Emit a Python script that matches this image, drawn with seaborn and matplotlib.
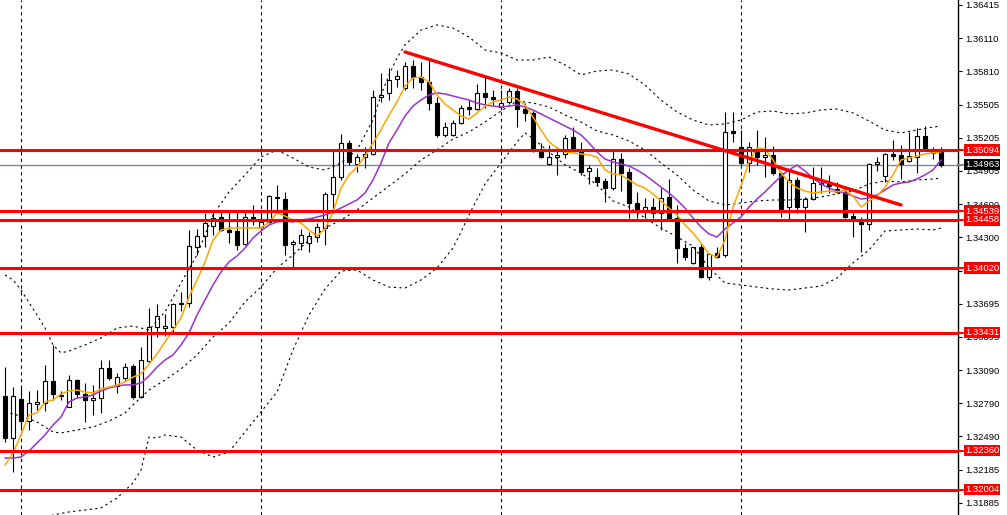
import matplotlib
matplotlib.use("Agg")
import matplotlib.pyplot as plt
import matplotlib.transforms as mtransforms
import numpy as np
import pandas as pd
import seaborn as sns

# ---- candles (oldest first) ----
opens = [1.32856, 1.32474, 1.32829, 1.32629, 1.32784, 1.32793, 1.32993, 1.32866, 1.32756, 1.33002,
         1.32875, 1.32820, 1.32838, 1.33111, 1.32947, 1.33020, 1.33129, 1.32847, 1.33175, 1.33484,
         1.33475, 1.33484, 1.33694, 1.33703, 1.34212, 1.34312, 1.34403, 1.34485, 1.34367, 1.34358,
         1.34240, 1.34485, 1.34394, 1.34440, 1.34667, 1.34649, 1.34240, 1.34249, 1.34249, 1.34303,
         1.34385, 1.34695, 1.34849, 1.35159, 1.34968, 1.35031, 1.35059, 1.35577, 1.35614, 1.35741,
         1.35659, 1.35859, 1.35759, 1.35714, 1.35523, 1.35232, 1.35232, 1.35341, 1.35486, 1.35468,
         1.35614, 1.35577, 1.35486, 1.35532, 1.35632, 1.35468, 1.35432, 1.35095, 1.34968, 1.35031,
         1.35059, 1.35213, 1.35086, 1.34904, 1.34849, 1.34813, 1.34749, 1.35013, 1.34895, 1.34613,
         1.34549, 1.34576, 1.34522, 1.34667, 1.34476, 1.34203, 1.34067, 1.34212, 1.33939, 1.34158,
         1.34140, 1.35268, 1.35122, 1.34977, 1.35104, 1.35031, 1.35050, 1.34886, 1.34576, 1.34822,
         1.34576, 1.34649, 1.34795, 1.34795, 1.34740, 1.34713, 1.34494, 1.34458, 1.34422, 1.34968,
         1.34858, 1.35059, 1.35050, 1.34995, 1.35031, 1.35222, 1.35068, 1.35095]
highs = [1.33120, 1.32938, 1.32938, 1.32902, 1.32911, 1.33139, 1.33321, 1.32902, 1.33048, 1.33011,
         1.32975, 1.32957, 1.33184, 1.33184, 1.33066, 1.33157, 1.33148, 1.33302, 1.33657, 1.33694,
         1.33603, 1.33703, 1.33803, 1.34367, 1.34376, 1.34522, 1.34540, 1.34540, 1.34540, 1.34540,
         1.34540, 1.34595, 1.34549, 1.34686, 1.34777, 1.34713, 1.34276, 1.34376, 1.34349, 1.34431,
         1.34713, 1.35095, 1.35241, 1.35186, 1.35059, 1.35122, 1.35641, 1.35796, 1.35841, 1.35823,
         1.35896, 1.35914, 1.35896, 1.35932, 1.35577, 1.35350, 1.35368, 1.35505, 1.35550, 1.35696,
         1.35759, 1.35641, 1.35641, 1.35659, 1.35659, 1.35523, 1.35450, 1.35159, 1.35141, 1.35122,
         1.35232, 1.35304, 1.35168, 1.34959, 1.34931, 1.34840, 1.35095, 1.35068, 1.34931, 1.34713,
         1.34658, 1.34658, 1.34749, 1.34831, 1.34595, 1.34249, 1.34212, 1.34249, 1.34158, 1.34212,
         1.35441, 1.35441, 1.35277, 1.35168, 1.35277, 1.35213, 1.35131, 1.34895, 1.34913, 1.34849,
         1.34667, 1.34940, 1.34940, 1.34868, 1.34804, 1.34758, 1.34549, 1.34485, 1.34977, 1.35031,
         1.35068, 1.35186, 1.35141, 1.35259, 1.35295, 1.35313, 1.35122, 1.35122]
lows = [1.32438, 1.32165, 1.32547, 1.32547, 1.32729, 1.32720, 1.32820, 1.32820, 1.32756, 1.32838,
        1.32620, 1.32684, 1.32702, 1.33002, 1.32884, 1.33002, 1.32829, 1.32838, 1.33157, 1.33393,
        1.33402, 1.33430, 1.33630, 1.33666, 1.34140, 1.34212, 1.34322, 1.34358, 1.34249, 1.34185,
        1.34231, 1.34413, 1.34367, 1.34431, 1.34549, 1.34140, 1.34021, 1.34185, 1.34167, 1.34258,
        1.34231, 1.34522, 1.34822, 1.34959, 1.34895, 1.34931, 1.35050, 1.35532, 1.35550, 1.35668,
        1.35641, 1.35659, 1.35641, 1.35459, 1.35213, 1.35213, 1.35222, 1.35332, 1.35414, 1.35459,
        1.35477, 1.35505, 1.35459, 1.35514, 1.35304, 1.35359, 1.35077, 1.35022, 1.34959, 1.34868,
        1.35022, 1.35095, 1.34868, 1.34786, 1.34767, 1.34622, 1.34731, 1.34722, 1.34476, 1.34476,
        1.34476, 1.34476, 1.34367, 1.34458, 1.34067, 1.34094, 1.34058, 1.33930, 1.33912, 1.34112,
        1.34121, 1.35168, 1.34959, 1.34895, 1.34959, 1.34849, 1.34868, 1.34485, 1.34458, 1.34522,
        1.34349, 1.34640, 1.34704, 1.34704, 1.34704, 1.34476, 1.34303, 1.34167, 1.34367, 1.34904,
        1.34804, 1.35004, 1.34831, 1.34986, 1.34886, 1.35095, 1.35013, 1.34940]
closes = [1.32474, 1.32856, 1.32629, 1.32793, 1.32802, 1.32993, 1.32875, 1.32856, 1.33002, 1.32875,
          1.32820, 1.32838, 1.33111, 1.33020, 1.33029, 1.33120, 1.32847, 1.33184, 1.33484, 1.33584,
          1.33493, 1.33694, 1.33703, 1.34221, 1.34312, 1.34431, 1.34476, 1.34367, 1.34349, 1.34231,
          1.34485, 1.34476, 1.34440, 1.34676, 1.34658, 1.34231, 1.34258, 1.34322, 1.34312, 1.34394,
          1.34695, 1.34849, 1.35159, 1.34986, 1.35031, 1.35059, 1.35577, 1.35596, 1.35732, 1.35768,
          1.35859, 1.35759, 1.35714, 1.35523, 1.35232, 1.35304, 1.35341, 1.35477, 1.35468, 1.35614,
          1.35577, 1.35559, 1.35523, 1.35632, 1.35468, 1.35432, 1.35095, 1.35031, 1.35031, 1.35050,
          1.35204, 1.35113, 1.34895, 1.34931, 1.34804, 1.34749, 1.35013, 1.34886, 1.34613, 1.34558,
          1.34576, 1.34522, 1.34658, 1.34476, 1.34203, 1.34121, 1.34212, 1.33939, 1.34149, 1.34121,
          1.35259, 1.35250, 1.34977, 1.35122, 1.35031, 1.35050, 1.34886, 1.34540, 1.34822, 1.34576,
          1.34649, 1.34795, 1.34786, 1.34767, 1.34713, 1.34485, 1.34458, 1.34422, 1.34968, 1.34986,
          1.35059, 1.35040, 1.34968, 1.35040, 1.35222, 1.35113, 1.35095, 1.34963]

# ---- moving averages, one value per candle ----
fast_ma = [1.32229, 1.32338, 1.32502, 1.32684, 1.32702, 1.32802, 1.32820, 1.32875, 1.32902, 1.32911,
           1.32893, 1.32884, 1.32920, 1.32938, 1.32957, 1.32984, 1.33029, 1.33057, 1.33148, 1.33239,
           1.33348, 1.33457, 1.33566, 1.33757, 1.33912, 1.34076, 1.34276, 1.34367, 1.34385, 1.34385,
           1.34385, 1.34385, 1.34385, 1.34440, 1.34522, 1.34494, 1.34458, 1.34431, 1.34367, 1.34312,
           1.34376, 1.34531, 1.34749, 1.34868, 1.34940, 1.35040, 1.35159, 1.35277, 1.35414, 1.35532,
           1.35677, 1.35750, 1.35759, 1.35714, 1.35596, 1.35514, 1.35459, 1.35404, 1.35377, 1.35432,
           1.35495, 1.35532, 1.35550, 1.35577, 1.35559, 1.35505, 1.35395, 1.35277, 1.35168, 1.35113,
           1.35077, 1.35068, 1.35059, 1.35050, 1.35031, 1.34913, 1.34877, 1.34868, 1.34822, 1.34777,
           1.34749, 1.34695, 1.34631, 1.34567, 1.34504, 1.34413, 1.34340, 1.34249, 1.34149, 1.34121,
           1.34276, 1.34576, 1.34767, 1.34986, 1.35113, 1.35104, 1.35004, 1.34886, 1.34804, 1.34749,
           1.34722, 1.34704, 1.34713, 1.34722, 1.34713, 1.34731, 1.34676, 1.34576, 1.34631, 1.34676,
           1.34758, 1.34868, 1.35004, 1.35022, 1.35040, 1.35059, 1.35068, 1.35077]
slow_ma = [1.32292, 1.32292, 1.32301, 1.32356, 1.32429, 1.32502, 1.32593, 1.32665, 1.32802, 1.32838,
           1.32847, 1.32866, 1.32902, 1.32929, 1.32947, 1.32957, 1.32957, 1.32975, 1.33038, 1.33120,
           1.33184, 1.33230, 1.33321, 1.33430, 1.33594, 1.33730, 1.33867, 1.33985, 1.34076, 1.34130,
           1.34203, 1.34294, 1.34358, 1.34413, 1.34440, 1.34449, 1.34440, 1.34458, 1.34467, 1.34485,
           1.34504, 1.34531, 1.34567, 1.34604, 1.34640, 1.34704, 1.34822, 1.34977, 1.35159, 1.35277,
           1.35404, 1.35495, 1.35550, 1.35596, 1.35614, 1.35605, 1.35586, 1.35568, 1.35550, 1.35523,
           1.35505, 1.35495, 1.35486, 1.35495, 1.35505, 1.35486, 1.35459, 1.35423, 1.35386, 1.35350,
           1.35313, 1.35277, 1.35232, 1.35159, 1.35077, 1.35013, 1.34986, 1.34968, 1.34949, 1.34913,
           1.34868, 1.34813, 1.34758, 1.34704, 1.34640, 1.34567, 1.34476, 1.34394, 1.34331, 1.34303,
           1.34376, 1.34431, 1.34485, 1.34576, 1.34649, 1.34713, 1.34786, 1.34858, 1.34913, 1.34959,
           1.34904, 1.34840, 1.34786, 1.34749, 1.34722, 1.34704, 1.34676, 1.34649, 1.34658, 1.34686,
           1.34731, 1.34777, 1.34795, 1.34804, 1.34831, 1.34868, 1.34913, 1.35004]

# ---- bollinger bands, read at these bar numbers ----
upper_bars = [0, 1, 2, 4, 5, 6, 7, 8, 10, 12, 14, 16, 18, 20, 22, 24, 26, 28, 30, 32, 34, 36, 38, 40,
              42, 44, 46, 47, 48, 49, 50, 52, 54, 56, 58, 60, 62, 64, 66, 68, 70, 72, 74, 76, 78, 80,
              82, 84, 86, 88, 90, 92, 94, 96, 98, 100, 102, 104, 106, 108, 110, 112, 114, 116, 117]
upper_band = [1.33958, 1.33912, 1.33821, 1.33594, 1.33475, 1.33321, 1.33248, 1.33266, 1.33321, 1.33384,
              1.33475, 1.33493, 1.33457, 1.33621, 1.33885, 1.34140, 1.34504, 1.34713, 1.34868, 1.35031,
              1.35095, 1.35022, 1.34940, 1.34913, 1.34977, 1.35095, 1.35368, 1.35596, 1.35778, 1.35932,
              1.36051, 1.36187, 1.36233, 1.36205, 1.36123, 1.36005, 1.35978, 1.35914, 1.35914, 1.35941,
              1.35869, 1.35778, 1.35814, 1.35823, 1.35787, 1.35687, 1.35550, 1.35441, 1.35368, 1.35323,
              1.35332, 1.35368, 1.35441, 1.35450, 1.35423, 1.35432, 1.35459, 1.35468, 1.35432, 1.35359,
              1.35277, 1.35250, 1.35277, 1.35304, 1.35313]
mid_bars = [0, 2, 4, 6, 7, 9, 11, 13, 15, 16, 18, 20, 22, 24, 26, 28, 30, 32, 34, 36, 38, 40, 42, 44,
            46, 48, 50, 52, 54, 56, 58, 60, 62, 64, 66, 68, 70, 72, 74, 76, 78, 80, 82, 84, 86, 88,
            90, 92, 94, 96, 98, 100, 102, 104, 106, 108, 110, 112, 114, 116, 117]
mid_band = [1.32711, 1.32674, 1.32620, 1.32529, 1.32520, 1.32547, 1.32574, 1.32629, 1.32702, 1.32775,
            1.32911, 1.33002, 1.33102, 1.33230, 1.33393, 1.33521, 1.33712, 1.33848, 1.34021, 1.34140,
            1.34276, 1.34385, 1.34458, 1.34549, 1.34658, 1.34767, 1.34877, 1.35004, 1.35095, 1.35195,
            1.35259, 1.35350, 1.35450, 1.35541, 1.35523, 1.35486, 1.35414, 1.35350, 1.35268, 1.35232,
            1.35177, 1.35095, 1.34977, 1.34868, 1.34731, 1.34631, 1.34595, 1.34613, 1.34631, 1.34640,
            1.34640, 1.34649, 1.34667, 1.34695, 1.34722, 1.34786, 1.34813, 1.34804, 1.34822, 1.34831,
            1.34840]
lower_bars = [0, 3, 6, 8, 10, 12, 14, 16, 17, 18, 19, 20, 22, 24, 26, 28, 30, 32, 34, 36, 38, 40, 42,
              44, 46, 48, 50, 52, 54, 56, 57, 58, 60, 62, 64, 65, 66, 68, 70, 72, 74, 76, 78, 80, 82,
              84, 86, 88, 90, 92, 94, 96, 98, 100, 102, 104, 106, 108, 110, 112, 114, 116, 117]
lower_band = [1.31501, 1.31610, 1.31774, 1.31801, 1.31819, 1.31837, 1.31928, 1.32065, 1.32183, 1.32483,
              1.32474, 1.32502, 1.32483, 1.32365, 1.32301, 1.32347, 1.32529, 1.32711, 1.32893, 1.33275,
              1.33594, 1.33830, 1.33994, 1.34003, 1.33912, 1.33848, 1.33839, 1.33912, 1.34021, 1.34203,
              1.34349, 1.34504, 1.34786, 1.34977, 1.35168, 1.35250, 1.35202, 1.35077, 1.34959, 1.34886,
              1.34777, 1.34631, 1.34576, 1.34476, 1.34385, 1.34303, 1.34221, 1.34021, 1.33885, 1.33867,
              1.33848, 1.33830, 1.33821, 1.33839, 1.33857, 1.33930, 1.34067, 1.34185, 1.34358, 1.34367,
              1.34376, 1.34367, 1.34385]

# ---- drawn objects ----
trend_bars = [50, 112]
trend_prices = [1.35987, 1.34595]
levels = [1.35094, 1.34539, 1.34458, 1.34020, 1.33431, 1.32360, 1.32004]
bid = 1.34963
separators = [2, 32, 62, 92]
price_ticks = [1.36415, 1.36110, 1.35810, 1.35505, 1.35205, 1.34905, 1.34600, 1.34300,
               1.33995, 1.33695, 1.33395, 1.33090, 1.32790, 1.32490, 1.32185, 1.31885]

sns.set_style("white")
plt.rcParams['font.family'] = ['Liberation Sans', 'DejaVu Sans']

fig = plt.figure(figsize=(10.07, 5.15), dpi=100)
ax = fig.add_axes([0, 0, 958 / 1007, 1])

df = pd.DataFrame({'open': opens, 'high': highs, 'low': lows, 'close': closes})
df['bar'] = np.arange(len(df))
up = df['close'] >= df['open']

for b in separators:
    ax.axvline(b, color='black', lw=0.8, linestyle=(0, (3, 3)), zorder=1)
ax.axhline(bid, color='#778899', lw=1, zorder=1)

ax.vlines(df['bar'], df['low'], df['high'], color='black', lw=0.8, zorder=2)
ax.bar(df['bar'], (df['close'] - df['open']).abs(), bottom=df[['open', 'close']].min(axis=1),
       width=0.5, color=np.where(up, 'white', 'black'), edgecolor='black', linewidth=0.8, zorder=3)

for bars, band in [(upper_bars, upper_band), (mid_bars, mid_band), (lower_bars, lower_band)]:
    sns.lineplot(x=bars, y=band, ax=ax, color='black', lw=0.8, linestyle=(0, (2, 3)), zorder=4)

sns.lineplot(x=df['bar'], y=slow_ma, ax=ax, color='#9A32CD', lw=1.1, zorder=5)
sns.lineplot(x=df['bar'], y=fast_ma, ax=ax, color='#FFA500', lw=1.1, zorder=5)

for lv in levels:
    ax.axhline(lv, color='red', lw=2.2, zorder=6)
sns.lineplot(x=trend_bars, y=trend_prices, ax=ax, color='red', lw=2.4, zorder=7)

ax.set_xlim(-0.625, 119.125)
ax.set_ylim(1.317735, 1.36460)
ax.set_xlabel('')
ax.set_ylabel('')
ax.set_xticks([])
ax.yaxis.tick_right()
ax.set_yticks(price_ticks)
ax.set_yticklabels([f'{t:.5f}' for t in price_ticks])
ax.tick_params(axis='y', right=True, left=False, direction='out', length=3, width=0.8,
               pad=2.5, labelsize=6.8, colors='black')
for s in ['top', 'left', 'bottom']:
    ax.spines[s].set_visible(False)
ax.spines['right'].set_color('black')
ax.spines['right'].set_linewidth(1)

trans = mtransforms.blended_transform_factory(ax.transAxes, ax.transData)
label_trans = mtransforms.offset_copy(trans, fig=fig, x=7, y=0, units='dots')
for lv, fc in [(v, 'red') for v in levels] + [(bid, 'black')]:
    ax.plot([1.0, 1.005], [lv, lv], transform=trans, color=fc if fc == 'red' else '#778899',
            lw=1.5, clip_on=False, zorder=8)
    ax.text(1.0, lv, f'{lv:.5f}', transform=label_trans, ha='left', va='center', color='white',
            fontsize=6.8, zorder=9, clip_on=False,
            bbox=dict(boxstyle='square,pad=0.12', fc=fc, ec='none'))

fig.savefig('out.png', dpi=100)
